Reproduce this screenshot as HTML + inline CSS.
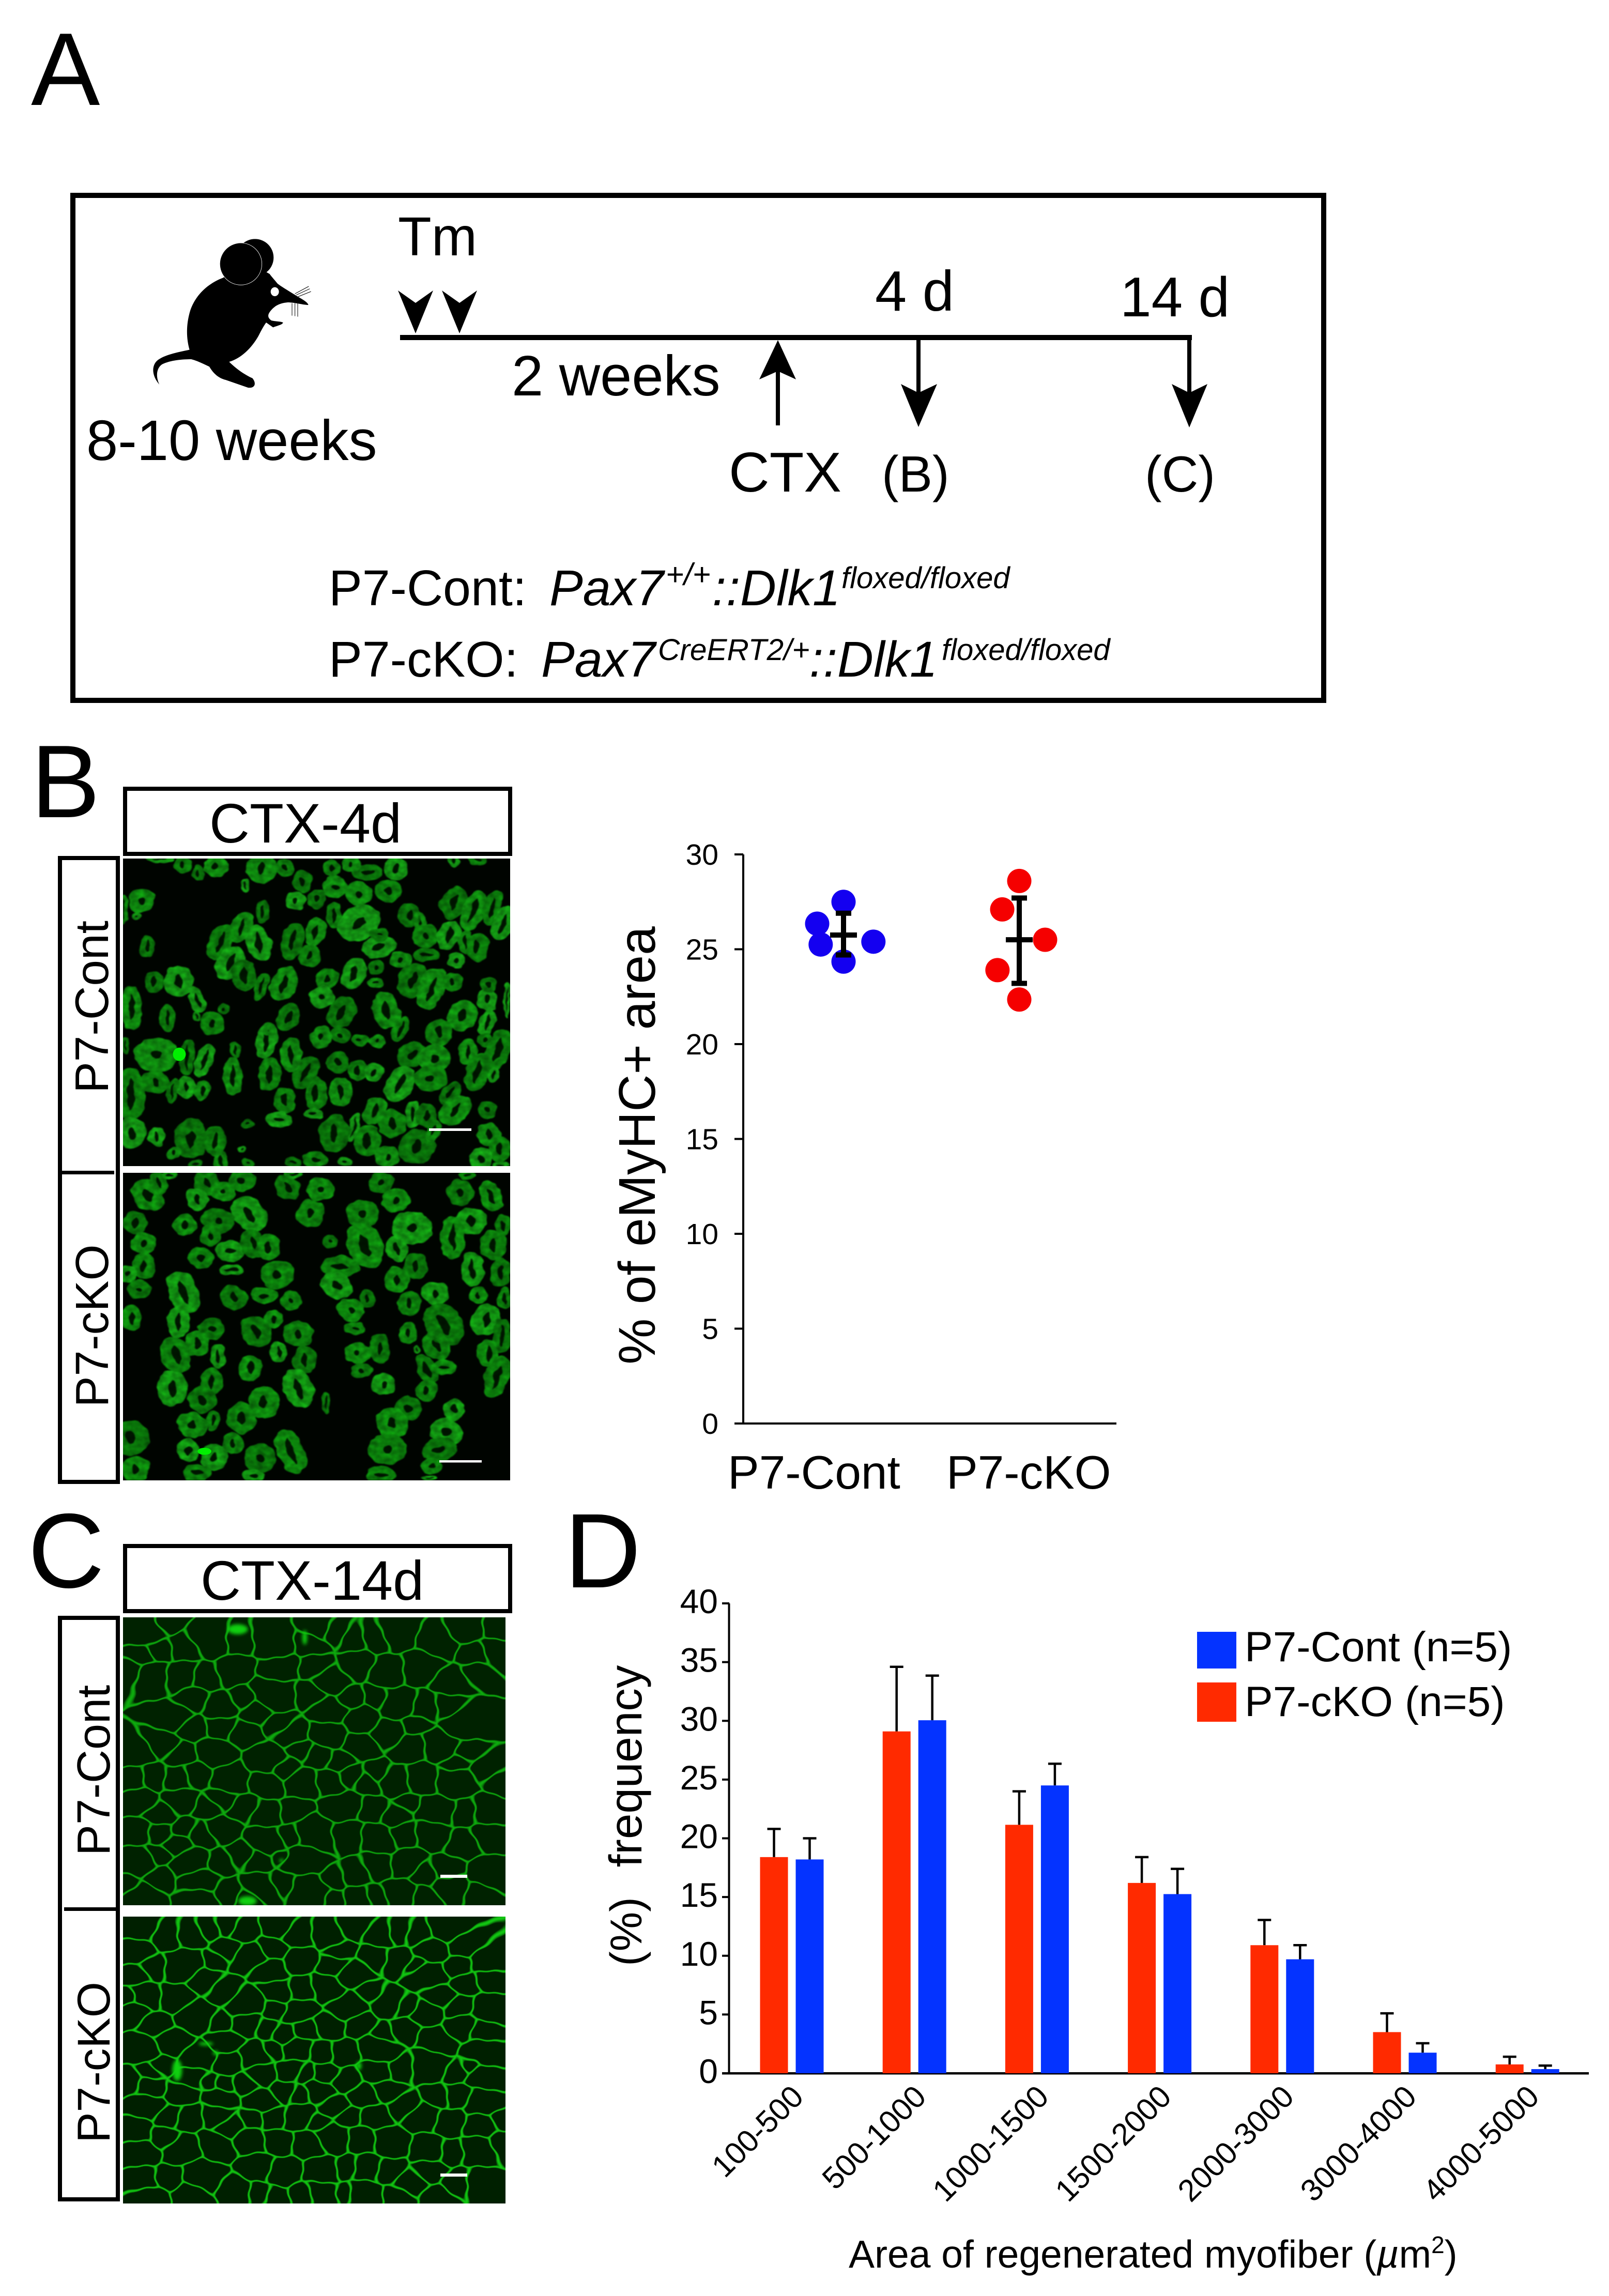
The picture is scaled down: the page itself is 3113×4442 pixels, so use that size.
<!DOCTYPE html>
<html lang="en">
<head>
<meta charset="utf-8">
<title>Figure panels A-D</title>
<style>
html,body{margin:0;padding:0;background:#fff;}
#page{position:relative;width:3113px;height:4442px;overflow:hidden;background:#fff;}
canvas{position:absolute;display:block;}
svg#fig{position:absolute;left:0;top:0;}
text{font-family:"Liberation Sans",Arial,sans-serif;fill:#000;}
.it{font-style:italic;}
</style>
</head>
<body>
<div id="page">
<canvas id="imgC1" width="740" height="557" style="left:238px;top:3129px"></canvas>
<canvas id="imgC2" width="740" height="555" style="left:238px;top:3708px"></canvas>
<svg id="fig" width="3113" height="4442" viewBox="0 0 3113 4442" xmlns="http://www.w3.org/2000/svg">
<defs>
<filter id="fiberTexture" x="0" y="0" width="1" height="1" color-interpolation-filters="sRGB">
<feTurbulence type="fractalNoise" baseFrequency="0.02" numOctaves="2" seed="4" result="warp"/>
<feDisplacementMap in="SourceGraphic" in2="warp" scale="26" xChannelSelector="R" yChannelSelector="G" result="shape"/>
<feTurbulence type="fractalNoise" baseFrequency="0.035" numOctaves="2" seed="9" result="mott"/>
<feColorMatrix in="mott" type="matrix" values="0 0.5 0 0 0.35  0 0.5 0 0 0.35  0 0.5 0 0 0.35  0 0 0 0 1" result="grey"/>
<feComposite in="shape" in2="grey" operator="arithmetic" k1="1.25" k2="0" k3="0" k4="0" result="mottled"/>
<feGaussianBlur in="mottled" stdDeviation="3"/>
</filter>
</defs>

<!-- Panel A -->
<g>
<text x="60" y="203" font-size="200">A</text>
<rect x="141" y="378" width="2420" height="977" fill="none" stroke="#000" stroke-width="10"/>
<g transform="translate(280,440) scale(0.33333)">
<circle cx="640" cy="175" r="108" fill="#000"/>
<path fill="#000" d="M455 292C380 320 300 380 265 480C240 560 240 640 260 710C190 725 110 740 70 775C40 805 40 860 85 912C65 870 65 820 100 795C150 770 220 765 270 765C310 775 345 795 375 808C400 850 430 875 470 885L600 930C640 935 650 905 625 875C580 855 530 820 490 780C560 760 620 700 660 630C680 590 695 565 705 552L745 580C770 570 800 565 803 552C790 545 750 545 735 540C715 525 710 510 730 485C755 455 780 440 830 435C870 435 920 450 950 450C945 430 900 410 870 390C830 365 780 335 770 325C750 300 735 285 725 270L600 200Z"/>
<circle cx="558" cy="212" r="122" fill="#000" stroke="#fff" stroke-width="2.5"/>
<ellipse cx="755" cy="373" rx="24" ry="26" fill="#fff"/>
<path fill="none" stroke="#000" stroke-width="3" d="M872 385L952 342M880 392L958 356M890 402L965 372M855 440V512M872 440V515M888 440V518"/>
</g>
<text x="770" y="494" font-size="106">Tm</text>
<polygon points="770,562 804,586 838,562 804,645" fill="#000"/>
<polygon points="855,562 889,586 923,562 889,645" fill="#000"/>
<rect x="774" y="648" width="1532" height="10" fill="#000"/>
<text x="990" y="765" font-size="110">2 weeks</text>
<text x="167" y="890" font-size="110">8-10 weeks</text>
<g><rect x="1501" y="700" width="8" height="123" fill="#000"/><polygon points="1505,658 1469,734 1505,718 1540,734" fill="#000"/></g>
<g><rect x="1773" y="653" width="8" height="130" fill="#000"/><polygon points="1777,826 1743,743 1777,760 1813,743" fill="#000"/></g>
<g><rect x="2297" y="653" width="8" height="130" fill="#000"/><polygon points="2301,827 2267,743 2301,760 2336,743" fill="#000"/></g>
<text x="1693" y="601" font-size="110">4 d</text>
<text x="2167" y="612" font-size="109">14 d</text>
<text x="1410" y="951" font-size="109">CTX</text>
<text x="1706" y="951" font-size="98">(B)</text>
<text x="2215" y="951" font-size="98">(C)</text>
<g>
<text x="636" y="1171" font-size="97">P7-Cont:</text>
<text x="1063" y="1171" font-size="97" class="it">Pax7</text>
<text x="1288" y="1132" font-size="60" class="it">+/+</text>
<text x="1378" y="1171" font-size="97" class="it">::Dlk1</text>
<text x="1628" y="1138" font-size="58" class="it">floxed/floxed</text>
</g>
<g>
<text x="636" y="1309" font-size="97">P7-cKO:</text>
<text x="1047" y="1309" font-size="97" class="it">Pax7</text>
<text x="1273" y="1277" font-size="58.6" class="it">CreERT2/+</text>
<text x="1566" y="1309" font-size="97" class="it">::Dlk1</text>
<text x="1822" y="1277" font-size="58" class="it">floxed/floxed</text>
</g>
</g>

<!-- Panel B images -->
<g>
<text x="60" y="1581" font-size="200">B</text>
<rect x="242" y="1526" width="745" height="126" fill="#fff" stroke="#000" stroke-width="8"/>
<text x="405" y="1630" font-size="108">CTX-4d</text>
<rect x="116" y="1660" width="112" height="1207" fill="#fff" stroke="#000" stroke-width="8"/>
<rect x="120" y="2265" width="101" height="7" fill="#000"/>
<text transform="translate(209,1948) rotate(-90)" text-anchor="middle" font-size="91">P7-Cont</text>
<text transform="translate(209,2565) rotate(-90)" text-anchor="middle" font-size="90">P7-cKO</text>
<svg id="imgB1" x="238" y="1661" width="749" height="595" viewBox="0 0 1568 1568" preserveAspectRatio="none"><rect width="1568" height="1568" fill="#000400"/></svg>
<svg id="imgB2" x="238" y="2269" width="749" height="595" viewBox="0 0 1568 1568" preserveAspectRatio="none"><rect width="1568" height="1568" fill="#000400"/></svg>
<rect x="830" y="2183" width="82" height="5" fill="#fff"/>
<rect x="850" y="2825" width="82" height="4.5" fill="#fff"/>
</g>

<!-- Panel C labels -->
<g>
<text x="54" y="3071" font-size="205">C</text>
<rect x="242" y="2991" width="745" height="126" fill="#fff" stroke="#000" stroke-width="8"/>
<text x="388" y="3095" font-size="108">CTX-14d</text>
<rect x="116" y="3130" width="112" height="1125" fill="#fff" stroke="#000" stroke-width="8"/>
<rect x="124" y="3690" width="100" height="7" fill="#000"/>
<text transform="translate(212,3425) rotate(-90)" text-anchor="middle" font-size="90">P7-Cont</text>
<text transform="translate(212,3990) rotate(-90)" text-anchor="middle" font-size="89">P7-cKO</text>
<rect x="852" y="3627" width="52" height="6" fill="#fff"/>
<rect x="852" y="4205" width="52" height="6" fill="#fff"/>
</g>

<!-- Panel B scatter -->
<g id="scatter">
<text transform="translate(1267,2216) rotate(-90)" text-anchor="middle" font-size="100">% of eMyHC+ area</text>
<rect x="1436" y="1653" width="4" height="1103" fill="#000"/>
<rect x="1436" y="2752" width="724" height="4" fill="#000"/>
</g>

<!-- Panel D bars -->
<g id="bars">
<text x="1092" y="3071" font-size="205">D</text>
<text transform="translate(1241,3737) rotate(-90)" text-anchor="middle" font-size="86">(%)</text>
<text transform="translate(1241,3417) rotate(-90)" text-anchor="middle" font-size="89">frequency</text>
<rect x="1408.5" y="3102" width="4" height="911" fill="#000"/>
<rect x="1397" y="4009" width="1677" height="4.5" fill="#000"/>
<text x="1642" y="4387" font-size="75">Area of regenerated myofiber (<tspan class="it">µ</tspan>m<tspan dy="-28" font-size="46">2</tspan><tspan dy="28">)</tspan></text>
<rect x="2316" y="3157" width="76" height="71" fill="#0433ff"/>
<rect x="2316" y="3255" width="76" height="76" fill="#ff2a00"/>
<text x="2408" y="3214" font-size="82">P7-Cont (n=5)</text>
<text x="2408" y="3320" font-size="82">P7-cKO (n=5)</text>
</g>
</svg>
</div>

<script>
// ---- Scatter chart data (panel B) ----
var scatterGroups = ["P7-Cont", "P7-cKO"];
var scatterTicks = [0, 5, 10, 15, 20, 25, 30];
var contValues = [27.5, 26.35, 25.25, 25.4, 24.35];
var contJitter = [0, -0.15, -0.13, 0.17, 0];
var ckoValues = [28.6, 27.1, 25.5, 23.9, 22.35];
var ckoJitter = [0, -0.097, 0.147, -0.124, 0];
var scatterMeans = [25.75, 25.5];
var scatterUpper = [26.9, 27.7];
var scatterLower = [24.7, 23.2];

// ---- Bar chart data (panel D) ----
var areaBins = ["100-500", "500-1000", "1000-1500", "1500-2000", "2000-3000", "3000-4000", "4000-5000"];
var barTicks = [0, 5, 10, 15, 20, 25, 30, 35, 40];
var ckoFreq = [18.4, 29.1, 21.15, 16.2, 10.9, 3.5, 0.75];
var contFreq = [18.2, 30.05, 24.5, 15.25, 9.7, 1.75, 0.35];
var ckoErrTop = [20.8, 34.6, 24, 18.4, 13.05, 5.1, 1.4];
var contErrTop = [20, 33.85, 26.35, 17.4, 10.9, 2.55, 0.65];

var NS = "http://www.w3.org/2000/svg";
function mk(tag, attrs, parent) {
  var el = document.createElementNS(NS, tag);
  for (var k in attrs) el.setAttribute(k, attrs[k]);
  parent.appendChild(el);
  return el;
}

// ---- axis functions ----
function scatterY(v) { return 2754 - v * (2754 - 1653) / 30; }
function scatterX(g) { return 1632 + g * 340; }
function barY(v) { return 4011 - v * (4011 - 3102) / 40; }
function barX(i) { return 1532 + i * 237.2; }

// ---- draw scatter ----
(function () {
  var g = document.getElementById("scatter");
  scatterTicks.forEach(function (t) {
    var y = scatterY(t);
    var tick = mk("rect", { x: 1421, y: y - 2, width: 17, height: 4, fill: "#000" }, g);
    
    
    var lab = mk("text", { x: 1390, y: y + 20, "text-anchor": "end", "font-size": 57 }, g);
    
    
    lab.textContent = t;
  });
  function points(vals, jit, group, color) {
    vals.forEach(function (v, i) {
      var c = mk("circle", { cx: scatterX(group + jit[i]), cy: scatterY(v), r: 23.5, fill: color }, g);
      
      
    });
  }
  points(contValues, contJitter, 0, "#1400f0");
  points(ckoValues, ckoJitter, 1, "#f50000");
  scatterGroups.forEach(function (name, i) {
    var x = scatterX(i);
    var p = "M" + x + " " + scatterY(scatterUpper[i]) + "V" + scatterY(scatterLower[i]) +
      "M" + (x - 15) + " " + scatterY(scatterUpper[i]) + "h30" +
      "M" + (x - 15) + " " + scatterY(scatterLower[i]) + "h30" +
      "M" + (x - 26) + " " + scatterY(scatterMeans[i]) + "h52";
    var e = mk("path", { d: p, stroke: "#000", "stroke-width": 10, fill: "none" }, g);
    
    
    var t = mk("text", { x: i === 0 ? 1408 : 1831, y: 2880, "font-size": 91 }, g);
    
    
    t.textContent = name;
  });
})();

// ---- draw bars ----
(function () {
  var g = document.getElementById("bars");
  var base = barY(0), bw = 54, off = 34.5;
  barTicks.forEach(function (t) {
    var y = barY(t);
    var tick = mk("rect", { x: 1397, y: y - 2, width: 14, height: 4, fill: "#000" }, g);
    
    
    var lab = mk("text", { x: 1389, y: y + 19, "text-anchor": "end", "font-size": 66 }, g);
    
    
    lab.textContent = t;
  });
  function series(vals, tops, dir, color, nm) {
    vals.forEach(function (v, i) {
      var cx = barX(i) + dir * off;
      var err = mk("path", { d: "M" + cx + " " + barY(v) + "V" + barY(tops[i]) + "M" + (cx - 13) + " " + barY(tops[i]) + "h26", stroke: "#000", "stroke-width": 4.5, fill: "none" }, g);
      
      
      var b = mk("rect", { x: cx - bw / 2, y: barY(v), width: bw, height: base - barY(v), fill: color }, g);
      
      
    });
  }
  series(ckoFreq, ckoErrTop, -1, "#ff2a00", "p7-cko");
  series(contFreq, contErrTop, 1, "#0433ff", "p7-cont");
  areaBins.forEach(function (name, i) {
    var ex = barX(i) + 26, ey = 4060;
    var t = mk("text", { transform: "translate(" + ex + "," + ey + ") rotate(-45)", "text-anchor": "end", "font-size": 60 }, g);
    
    
    t.textContent = name;
  });
})();

// ---- micrograph texture: fibre rings ----
var fibersB1 = [[375,40,45,50],[240,35,32,40],[150,0,50,20],[305,75,22,35],[75,215,50,55],[0,260,15,70],[55,295,20,20],[100,445,30,50],[560,50,55,70],[655,45,35,40],[495,135,15,30],[725,115,35,50],[860,145,48,50],[845,50,30,40],[700,215,38,42],[785,205,35,45],[955,180,48,55],[1075,165,52,50],[1105,50,42,55],[990,70,55,40],[925,30,35,40],[1435,5,35,30],[1340,15,20,30],[1340,225,48,75,15],[1420,265,40,95,15],[1495,255,35,80,10],[1540,330,40,80,15],[1160,290,40,55],[1200,315,22,40],[855,290,30,60],[955,330,70,90,35],[565,270,25,55],[480,350,38,72,15],[395,425,45,85,20],[550,430,45,85,-10],[685,420,40,85,10],[780,375,38,65,10],[755,495,40,50],[435,535,50,80,20],[490,595,45,75,-5],[650,640,48,80,15],[560,650,25,65,15],[935,585,45,70,15],[1025,555,30,35],[1025,635,30,25],[825,615,40,50,20],[805,705,48,50],[885,785,50,75,20],[1065,775,50,85,-10],[1125,870,25,60,20],[1035,450,65,50,-20],[1040,390,35,35],[1125,515,40,40],[1225,395,48,55],[1320,390,40,70,15],[1230,490,50,30],[1385,425,25,55],[1435,450,40,65],[1350,520,30,35],[1175,620,55,80,15],[1250,665,48,100,15],[1335,630,35,45],[1475,720,40,50],[1480,645,30,35],[1375,800,55,70,15],[1280,885,50,65],[1475,835,28,65,10],[1465,925,25,30],[1395,985,35,60],[1520,975,45,95,15],[1555,720,12,80],[1170,1000,50,60,35],[1260,1020,60,65,10],[1245,1120,60,60],[1120,1150,48,85,20],[1325,1195,35,60,30],[1345,1285,50,75,30],[1435,1090,42,90,10],[1500,1100,20,35],[1475,1280,35,40],[1480,1405,42,55],[1525,1480,42,60],[1450,1530,40,50],[1190,1470,65,80,15],[1255,1385,25,55,10],[1090,1350,52,65],[1175,1305,28,65],[1230,1310,40,55],[1020,1285,40,65,15],[990,1440,50,75],[935,1370,18,70,15],[855,1400,55,85],[1070,1520,45,50],[780,1535,45,40],[900,1545,25,25],[690,1550,30,25],[1030,930,30,30],[960,925,35,28],[1530,1560,30,15],[880,900,35,35],[800,910,42,50],[950,1080,35,50],[1015,1090,35,45,15],[870,1040,42,50],[880,1190,42,70],[780,1200,40,75],[770,1300,35,25],[740,1090,42,80,25],[680,1000,38,80],[595,1100,42,75],[580,930,38,85,10],[670,810,42,65,15],[595,870,20,30],[655,1230,40,60],[630,1330,48,35],[505,1350,25,22],[445,1110,35,85],[455,975,20,40],[330,1030,32,80,15],[260,1010,28,85,5],[135,1000,80,80],[130,1140,50,55],[255,1165,35,50],[200,1185,22,60,10],[320,1180,28,45,15],[360,840,45,55],[300,720,28,60,-15],[410,765,22,25],[300,805,12,22],[180,815,30,60],[225,625,55,70],[125,630,35,50],[35,760,40,100],[30,1200,55,120],[35,1400,55,70],[275,1430,60,90],[205,1500,25,30],[375,1440,40,70],[135,1420,30,45],[10,950,18,40],[395,1540,25,45],[505,1550,20,20],[480,1480,15,18],[295,1555,25,15]];
var fibersB2 = [[100,115,55,75,-25],[145,50,35,55,-20],[190,10,25,20],[340,50,45,60,-20],[405,95,45,45],[480,40,50,50,-15],[300,135,40,55,-10],[665,75,45,60,-20],[800,85,50,50],[760,205,52,65],[690,5,35,20],[1045,50,45,50,20],[1105,140,52,55],[970,210,60,65],[1170,280,75,75],[1365,100,50,60],[1490,120,40,70,-15],[1390,10,30,20],[1410,245,55,65],[1540,270,30,50],[1335,330,45,100],[1500,370,50,70],[1415,490,42,80],[1530,510,40,65],[1440,625,35,40],[1545,640,25,50],[1470,750,55,75,15],[1535,830,35,80],[1480,920,40,65],[1515,1040,45,95,15],[510,210,60,85,-25],[385,245,58,60,-30],[250,265,42,50],[355,320,38,50],[435,400,55,50],[525,360,45,65,-10],[590,380,40,60],[315,435,45,50],[440,495,45,20],[50,255,45,55],[85,360,45,50],[85,475,45,60],[20,515,35,40],[65,595,45,45],[35,740,38,60],[625,520,60,65],[245,610,55,100,-15],[450,635,48,60,-15],[570,625,48,40],[680,650,38,45],[225,760,42,75],[360,795,50,50],[300,870,45,60],[215,930,55,85,-15],[385,935,30,55],[540,810,55,75,-15],[610,745,35,40],[710,820,55,60],[630,915,30,50],[735,955,42,65],[515,995,42,60],[360,1065,42,65],[200,1100,55,80],[320,1155,52,60],[570,1170,58,75],[480,1250,52,70],[710,1100,55,90,-15],[820,1170,15,50],[280,1285,55,60],[365,1265,25,45],[265,1415,40,55],[30,1350,70,80],[50,1510,50,60],[445,1380,40,50],[370,1450,50,60],[555,1455,60,65],[680,1420,50,105,-15],[300,1530,50,40],[530,1545,40,30],[840,350,30,30],[980,370,65,105,-15],[880,480,70,50],[865,575,55,65,-30],[990,640,28,40],[925,700,50,55,-25],[940,795,40,30],[1110,385,40,60,-10],[1185,475,42,60],[1110,545,45,60],[1160,665,42,55],[1265,615,50,55],[1300,775,70,100,-20],[1155,815,35,50],[1270,880,50,70,-20],[1190,900,12,20],[1040,895,40,65],[950,920,50,50],[965,1010,40,35],[1055,1080,45,50],[1230,1000,35,70,-20],[1300,990,45,35],[1230,1110,40,50],[1340,1205,42,50],[1155,1200,50,55],[1090,1275,60,70,-10],[1070,1410,70,70],[1310,1320,60,65,-25],[1280,1410,65,55,-20],[1250,1495,40,35],[1045,1540,55,40],[1240,1555,30,12]];

function drawFibers(svgId, list, shades, brights) {
  var svg = document.getElementById(svgId);
  var g = mk("g", { filter: "url(#fiberTexture)" }, svg);
  list.forEach(function (f, i) {
    var rot = f[4] || 0, a = Math.min(f[2], f[3]);
    var e = mk("ellipse", {
      cx: f[0], cy: f[1], rx: f[2] * 1.12 - a * 0.42, ry: f[3] * 1.12 - a * 0.42,
      transform: "rotate(" + rot + " " + f[0] + " " + f[1] + ")",
      fill: "rgba(0,80,0,0.3)", stroke: shades[i % shades.length], "stroke-width": a * 0.84
    }, g);
    
    
  });
  brights.forEach(function (b) {
    var s = mk("ellipse", { cx: b[0], cy: b[1], rx: b[2], ry: b[3], fill: "#00f000" }, svg);
    
    
  });
}
drawFibers("imgB1", fibersB1, ["#12b012", "#0ea20e", "#18c018", "#0c940c"], [[228, 998, 26, 34]]);
drawFibers("imgB2", fibersB2, ["#10b010", "#0ea40e", "#16c016", "#0c980c"], [[330, 1420, 28, 18]]);

// ---- membrane network: cell centres [x, y, radius] read by eye ----
var cellsC1 = [[90,70,70],[180,20,40],[250,170,55],[150,175,45],[70,215,40],[25,290,45],[130,310,60],[235,310,60],[345,130,65],[345,320,50],[450,285,60],[485,135,45],[610,140,70],[640,275,60],[620,420,80],[490,440,40],[550,510,45],[650,570,45],[755,430,50],[785,270,45],[760,150,40],[855,335,55],[835,510,60],[930,440,35],[875,80,30],[800,60,35],[960,260,50],[950,120,38],[1035,115,45],[1090,290,60],[1040,440,35],[1125,470,65],[1220,270,70],[1280,140,60],[1130,90,60],[1340,340,50],[1230,490,50],[1320,480,40],[1195,590,40],[1440,200,45],[1520,180,50],[1420,70,50],[1530,60,40],[1445,290,30],[1400,570,60],[980,560,52],[1100,620,55],[1180,700,55],[1290,700,60],[1365,790,40],[1400,740,35],[1490,830,45],[1540,880,35],[700,620,50],[840,630,60],[960,700,45],[800,750,40],[885,770,35],[730,720,30],[940,870,35],[850,900,45],[1040,850,30],[740,910,50],[655,820,35],[1000,900,35],[1120,890,48],[1230,880,55],[1360,890,65],[895,1030,60],[1020,1050,40],[1110,1075,35],[1160,1010,20],[1290,1050,55],[1400,1060,42],[1480,1050,45],[790,1180,75],[910,1180,55],[1045,1200,50],[1150,1180,35],[1040,1360,45],[960,1400,45],[1160,1340,45],[1275,1180,50],[1390,1230,48],[1490,1200,40],[1320,1370,45],[1500,1390,50],[1250,1400,40],[1340,1470,55],[1450,1510,35],[1130,1500,50],[1030,1520,35],[870,1420,32],[590,1220,60],[495,1040,45],[585,900,52],[580,1070,48],[690,1190,38],[700,1050,40],[740,1320,65],[550,1320,35],[480,1290,40],[635,1290,20],[580,780,60],[490,640,45],[400,600,48],[295,615,48],[170,680,45],[240,740,45],[370,730,65],[305,860,50],[230,880,50],[440,880,65],[390,480,55],[290,450,45],[210,545,50],[40,740,48],[130,870,40],[45,880,40],[70,1000,45],[150,1060,42],[230,990,50],[345,1030,35],[400,980,42],[410,1150,45],[320,1190,40],[255,1160,30],[70,1170,40],[150,1180,40],[150,1290,40],[215,1240,50],[70,1340,55],[270,1340,68],[160,1410,45],[395,1330,40],[310,1440,68],[420,1500,45],[310,1530,65],[80,1520,50],[20,1450,30],[570,1480,55],[660,1450,40],[760,1490,68],[510,1540,40],[960,1530,45],[860,1530,30],[1240,1530,40]];
var cellsC2 = [[80,70,50],[185,110,55],[265,110,50],[360,70,30],[430,50,30],[500,80,40],[420,170,38],[60,190,50],[235,260,70],[130,270,50],[60,320,38],[340,350,40],[410,400,42],[370,230,25],[520,220,50],[610,170,40],[610,290,50],[720,100,50],[640,50,45],[720,240,50],[860,260,40],[835,100,50],[880,185,35],[960,50,45],[950,320,55],[840,390,55],[1030,230,42],[1120,240,45],[1050,95,42],[1140,85,35],[1200,270,30],[1260,190,50],[1205,100,38],[1340,60,50],[1400,160,50],[1370,270,48],[1480,240,52],[1500,350,42],[1260,330,70],[1400,370,50],[1300,420,60],[1370,480,48],[1500,500,60],[1240,530,50],[1390,600,50],[1480,630,45],[1480,740,60],[1290,670,48],[1150,490,40],[1080,470,60],[920,490,65],[1010,420,45],[850,590,50],[980,590,50],[1070,630,40],[1150,610,45],[720,520,50],[620,505,32],[750,620,42],[665,640,40],[590,610,35],[510,590,50],[640,400,45],[500,480,55],[730,400,45],[400,580,38],[420,680,55],[300,560,60],[205,680,60],[140,590,45],[40,530,42],[100,430,50],[10,440,25],[200,440,50],[305,770,60],[430,790,50],[530,760,55],[610,725,30],[710,720,50],[810,740,40],[900,740,45],[1040,720,60],[1040,850,50],[1145,830,42],[1250,820,60],[1370,850,32],[1425,820,22],[1480,880,48],[80,720,50],[160,800,30],[30,900,35],[110,850,25],[110,930,38],[290,880,48],[350,900,30],[420,915,32],[500,920,40],[570,860,45],[690,840,42],[750,860,30],[835,860,40],[920,900,50],[660,950,38],[810,960,52],[720,975,32],[560,1010,50],[395,990,50],[240,970,45],[980,980,55],[1080,950,48],[1140,1030,45],[1230,1100,50],[1290,980,35],[1370,980,45],[1465,1020,60],[100,1040,50],[190,1090,45],[270,1100,50],[380,1080,50],[450,1150,50],[530,1110,40],[620,1100,45],[720,1100,55],[800,1130,35],[860,1020,50],[930,1090,38],[1030,1090,50],[1350,1120,52],[1460,1140,55],[1550,1100,30],[1450,1270,55],[1340,1280,40],[1250,1270,52],[1550,1240,40],[1260,1400,48],[1460,1470,55],[1370,1460,50],[1190,1460,52],[1090,1230,58],[980,1220,50],[860,1200,58],[750,1240,52],[640,1220,50],[510,1220,55],[380,1250,58],[240,1270,60],[170,1200,45],[60,1170,50],[70,1290,52],[90,1440,50],[190,1430,50],[330,1420,70],[450,1490,52],[550,1370,50],[660,1390,50],[820,1390,52],[920,1370,35],[1000,1370,48],[1090,1380,40],[980,1520,50],[820,1510,50],[900,1510,30],[730,1520,32],[620,1530,35],[560,1510,30],[270,1530,65],[120,1530,55],[1130,1530,40],[1290,1530,55]];

function drawCells(id, seeds, bg, edge, blobs) {
  var cv = document.getElementById(id), W = cv.width, H = cv.height;
  var ctx = cv.getContext("2d"), im = ctx.createImageData(W, H), px = im.data, n = seeds.length;
  var sx = 1568 / W, sy = 1568 / H;
  for (var y = 0; y < H; y++) {
    for (var x = 0; x < W; x++) {
      var zx = x * sx + 6 * Math.sin(y * sy / 43) + 3 * Math.sin(y * sy / 14);
      var zy = y * sy + 6 * Math.sin(x * sx / 37) + 3 * Math.sin(x * sx / 12);
      var d1 = 1e9, d2 = 1e9, d3 = 1e9;
      for (var i = 0; i < n; i++) {
        var dx = zx - seeds[i][0], dy = zy - seeds[i][1];
        var d = Math.sqrt(dx * dx + dy * dy) - seeds[i][2];
        if (d < d1) { d3 = d2; d2 = d1; d1 = d; }
        else if (d < d2) { d3 = d2; d2 = d; }
        else if (d < d3) { d3 = d; }
      }
      var g12 = d2 - d1 + 0.01, g13 = d3 - d1 + 0.01;
      var v = 1 / Math.sqrt(1 / (g12 * g12) + 1 / (g13 * g13));
      var t = v / 11;
      var a = t < 1 ? (1 - t * t) : 0;
      var o = (y * W + x) * 4;
      px[o] = bg[0] + (edge[0] - bg[0]) * a;
      px[o + 1] = bg[1] + (edge[1] - bg[1]) * a;
      px[o + 2] = bg[2] + (edge[2] - bg[2]) * a;
      px[o + 3] = 255;
    }
  }
  ctx.putImageData(im, 0, 0);
  ctx.fillStyle = "#10d010";
  ctx.filter = "blur(3px)";
  blobs.forEach(function (b) {
    ctx.beginPath();
    ctx.ellipse(b[0] / sx, b[1] / sy, b[2] / sx, b[3] / sy, 0, 0, 6.3);
    ctx.fill();
  });
  ctx.filter = "none";
}
drawCells("imgC1", cellsC1, [0, 34, 0], [14, 172, 14], [[470, 65, 42, 28], [510, 1545, 38, 26], [650, 1325, 9, 9], [745, 110, 10, 40]]);
drawCells("imgC2", cellsC2, [0, 32, 0], [18, 200, 18], [[222, 840, 20, 58], [967, 815, 11, 24], [340, 695, 30, 10], [380, 745, 12, 12]]);
</script>
</body>
</html>
